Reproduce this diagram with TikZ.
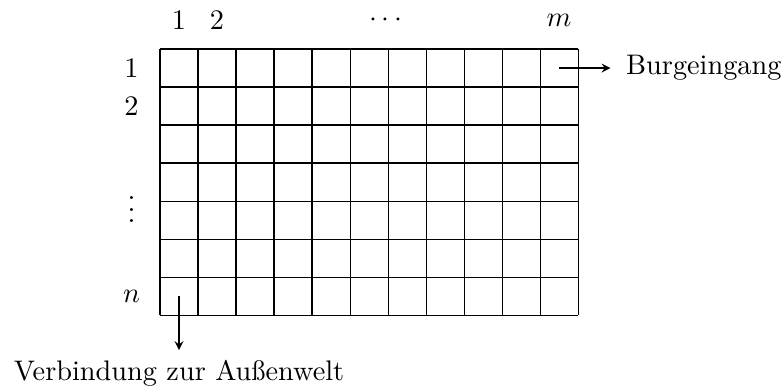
\documentclass[tikz,border=0pt]{standalone}
\usepackage{fontspec}
\usepackage{amsmath}
\usetikzlibrary{arrows, positioning}

\begin{document}
\begin{tikzpicture}[x=0.472cm, y=0.472cm, >=stealth]
\useasboundingbox (-4.21,-1.895) rectangle (16.39,8.29);

% grid of rooms
\draw[step=1] (0,0) grid (11,7);

% column numbers
\node (c1) at (0.5,7.75) {$1$};
\node (c2) at (1.5,7.75) {$2$};
\node (cdots) at (6,7.75) {$\cdots$};
\node (cm) at (10.5,7.75) {$m$};

% row numbers
\node (r1) at (-0.75,6.5) {$1$};
\node (r2) at (-0.75,5.5) {$2$};
\node (rdots) at (-0.75,3) {$\vdots$};
\node (rn) at (-0.75,0.5) {$n$};

% entrance
\coordinate (eingang) at (10.5,6.5);
\node[anchor=west] (burg) at (12.0,6.5) {Burgeingang};
\draw[->, shorten >=2pt] (eingang) -- (burg);

% way out
\coordinate (ausgang) at (0.5,0.5);
\node[anchor=north] (welt) at (0.5,-0.92) {Verbindung zur Außenwelt};
\draw[->] (ausgang) -- (welt);

\end{tikzpicture}
\end{document}
